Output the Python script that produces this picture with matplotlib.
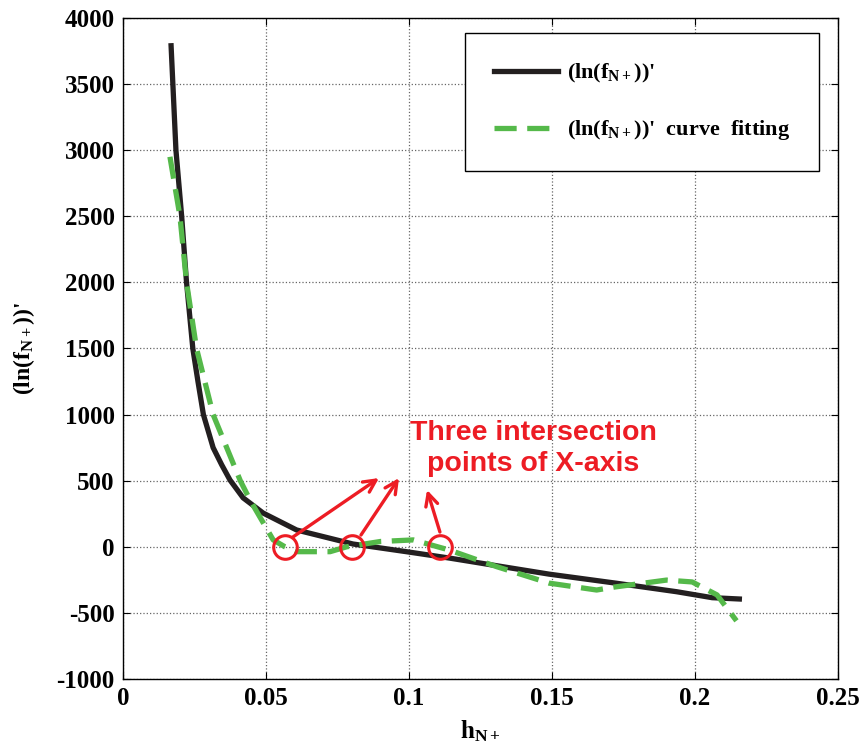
import matplotlib
matplotlib.use("Agg")
import matplotlib.pyplot as plt

# derivative of ln(f) (black solid)
h_deriv = [0.0168, 0.0185, 0.0205, 0.0222, 0.0244, 0.0262, 0.0281, 0.0315, 0.0345, 0.0374,
           0.042, 0.049, 0.0607, 0.0804, 0.100, 0.114, 0.130, 0.149, 0.1726, 0.1936, 0.206, 0.2155]
deriv = [3790, 3000, 2500, 2000, 1500, 1250, 1000, 750, 620, 505,
         370, 255, 127, 21, -40, -85, -141, -207, -276, -340, -385, -395]

# curve fitting (green dashed)
h_fit = [0.0164, 0.0199, 0.0222, 0.0257, 0.0315, 0.041, 0.0444, 0.0525, 0.0566, 0.0607,
         0.0724, 0.0782, 0.090, 0.1015, 0.110, 0.114, 0.1306, 0.149, 0.1656, 0.172,
         0.190, 0.199, 0.2077, 0.2145]
fit = [2950, 2500, 2000, 1500, 1000, 500, 354, 52, 0, -37,
       -37, 0, 40, 52, 0, -24, -150, -275, -327, -304,
       -252, -266, -364, -560]

# zero crossings marked with circles
cross_h = [0.0566, 0.0800, 0.1108]
cross_y = [0, 0, 0]
arrow_tips = [(0.0895, 520), (0.0965, 520), (0.1063, 430)]
arrow_tails = [(0.0594, 74), (0.0832, 89), (0.1108, 112)]

plt.rcParams["font.family"] = "Liberation Serif"
plt.rcParams["font.weight"] = "bold"
plt.rcParams["axes.unicode_minus"] = False
plt.rcParams["mathtext.fontset"] = "custom"
plt.rcParams["mathtext.rm"] = "Liberation Serif:bold"
plt.rcParams["mathtext.it"] = "Liberation Serif:bold"
plt.rcParams["mathtext.bf"] = "Liberation Serif:bold"

fig = plt.figure(figsize=(8.61, 7.53), dpi=100)
ax = fig.add_axes([0.1429, 0.0983, 0.8304, 0.8778])

ax.plot(h_deriv, deriv, color="#231f20", linewidth=3.8, label=r"(ln(f$_{\rm N+}$))'")
ax.plot(h_fit, fit, color="#55b94a", linewidth=3.8, linestyle=(0, (4.2, 2.0)),
        label=r"(ln(f$_{\rm N+}$))'  curve  fitting ")

ax.plot(cross_h, cross_y, linestyle="none", marker="o", markersize=17,
        markerfacecolor="none", markeredgecolor="#ed1c24", markeredgewidth=2.2)
for tip, tail in zip(arrow_tips, arrow_tails):
    ax.annotate("", xy=tip, xytext=tail,
                arrowprops=dict(arrowstyle="->", color="#ed1c24", lw=2.4,
                                mutation_scale=22, shrinkA=0, shrinkB=0))
ax.text(0.1434, 745, "Three intersection\npoints of X-axis", color="#ed1c24",
        fontsize=20.5, fontweight="bold", family="Liberation Sans",
        ha="center", va="center", linespacing=1.27)

ax.set_xlim(0, 0.25)
ax.set_ylim(-1000, 4000)
ax.set_xticks([0, 0.05, 0.1, 0.15, 0.2, 0.25])
ax.set_xticklabels(["0", "0.05", "0.1", "0.15", "0.2", "0.25"])
ax.set_yticks(range(-1000, 4001, 500))
ax.tick_params(direction="in", top=True, right=True, labelsize=18, length=5, pad=6)
ax.grid(True, color="#666666", linestyle=":", linewidth=0.9)
for s in ax.spines.values():
    s.set_linewidth(1.0)

ax.set_xlabel(r"h$_{\rm N+}$", fontsize=18, fontweight="bold", labelpad=6)
ax.set_ylabel(r"(ln(f$_{\rm N+}$))'", fontsize=17, fontweight="bold", labelpad=14)

leg = ax.legend(loc="upper right", bbox_to_anchor=(0.974, 0.977), borderaxespad=0,
                fontsize=16, fancybox=False, edgecolor="black", framealpha=1,
                handlelength=2.9, labelspacing=1.5, borderpad=1.3, handletextpad=0.4)
leg.get_frame().set_linewidth(1.0)

fig.savefig("out.png", dpi=100)
